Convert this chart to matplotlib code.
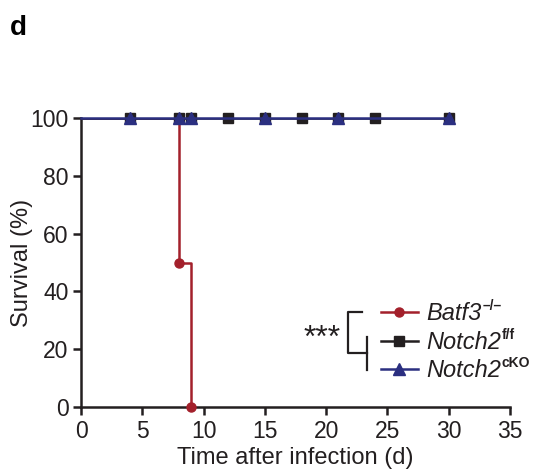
import numpy as np
import matplotlib
matplotlib.use("Agg")
import matplotlib.pyplot as plt
from matplotlib.lines import Line2D

plt.rcParams['font.family'] = ['Liberation Sans', 'DejaVu Sans']

# survival curves (step, where='post')
batf3_t = [0, 8, 9]
batf3_s = [100, 50, 0]
batf3_mark_t = [8, 9]
batf3_mark_s = [50, 0]

notch_ff_t = [0, 30]
notch_ff_s = [100, 100]
notch_ff_mark_t = [4, 8, 9, 12, 15, 18, 21, 24, 30]

notch_cko_t = [0, 30]
notch_cko_s = [100, 100]
notch_cko_mark_t = [4, 8, 9, 15, 21, 30]

labels = ['Batf3', 'Notch2', 'Notch2']
sups = ['\u2013/\u2013', 'f/f', 'cKO']

RED = '#a3202b'
BLACK = '#231f20'
NAVY = '#2b2f80'

W, H = 533, 473
fig = plt.figure(figsize=(W / 100, H / 100), dpi=100)


def fx(px):
    return px / W


def fy(py):
    return 1 - py / H


ax = fig.add_axes([fx(81), fy(407), fx(510) - fx(81), fy(118) - fy(407)])

ax.step(batf3_t, batf3_s, where='post', color=RED, lw=1.8, zorder=3)
ax.plot(batf3_mark_t, batf3_mark_s, 'o', color=RED, ms=6.5, clip_on=False, zorder=4)

ax.plot(notch_ff_t, notch_ff_s, color=BLACK, lw=1.8, zorder=3)
ax.plot(notch_ff_mark_t, [100] * len(notch_ff_mark_t), 's', color=BLACK,
        ms=6.5, clip_on=False, zorder=4)

ax.plot(notch_cko_t, notch_cko_s, color=NAVY, lw=1.8, clip_on=False, zorder=5)
ax.plot(notch_cko_mark_t, [100] * len(notch_cko_mark_t), '^', color=NAVY,
        ms=8, clip_on=False, zorder=6)

ax.set_xlim(0, 35)
ax.set_ylim(0, 100)
ax.set_xticks(np.arange(0, 36, 5))
ax.set_yticks(np.arange(0, 101, 20))
for s in ['top', 'right']:
    ax.spines[s].set_visible(False)
for s in ['left', 'bottom']:
    ax.spines[s].set_linewidth(1.8)
    ax.spines[s].set_color(BLACK)
ax.tick_params(width=1.8, length=6, color=BLACK, labelsize=16.5,
               labelcolor=BLACK, pad=3)
ax.set_xlabel('Time after infection (d)', fontsize=17, color=BLACK)
ax.set_ylabel('Survival (%)', fontsize=17, color=BLACK)
ax.xaxis.set_label_coords(0.5, (407 - 458) / (407 - 118) + 0.0, transform=ax.transAxes)
ax.xaxis.label.set_va('center')
ax.yaxis.set_label_coords((22 - 81) / (510 - 81), 0.5, transform=ax.transAxes)
ax.yaxis.label.set_va('center')

# legend drawn by hand
renderer = fig.canvas.get_renderer()
ys = [312, 341, 369]
colors = [RED, BLACK, NAVY]
markers = ['o', 's', '^']
msizes = [6.5, 6.5, 8]
for y, c, m, ms, lab, sup in zip(ys, colors, markers, msizes, labels, sups):
    fig.add_artist(Line2D([fx(381), fx(418)], [fy(y), fy(y)], color=c, lw=1.8))
    fig.add_artist(Line2D([fx(399)], [fy(y)], marker=m, color=c, ms=ms))
    t = fig.text(fx(426), fy(y + 8), lab, fontsize=17, style='italic',
                 va='baseline', ha='left', color=BLACK)
    bb = t.get_window_extent(renderer)
    fig.text(fx(bb.x1 + 1), fy(y - 2), sup, fontsize=10, fontweight='bold',
             va='baseline', ha='left', color=BLACK)

# bracket
bk = dict(color=BLACK, lw=1.6)
fig.add_artist(Line2D([fx(362), fx(348), fx(348), fx(367)],
                      [fy(312), fy(312), fy(353), fy(353)], **bk))
fig.add_artist(Line2D([fx(367), fx(367)], [fy(337), fy(370)], **bk))
fig.text(fx(322), fy(347), '***', fontsize=23, ha='center', va='baseline', color=BLACK)

fig.text(fx(10), fy(35), 'd', fontsize=20, fontweight='bold', va='baseline', ha='left')

fig.savefig('out.png', dpi=100)
